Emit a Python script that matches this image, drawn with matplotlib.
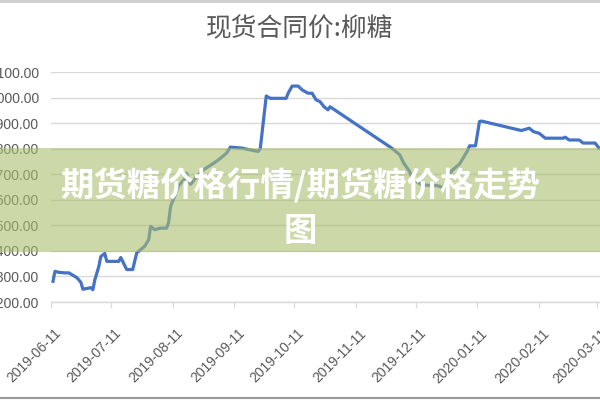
import matplotlib
matplotlib.use("Agg")
import matplotlib.pyplot as plt
import matplotlib.dates as mdates
import matplotlib.transforms as mtransforms
from matplotlib.patches import Rectangle
from matplotlib.lines import Line2D
import pandas as pd

# 현货合同价:柳糖 (读取自图片的近似值)
dates = [
    "2019-06-12", "2019-06-13", "2019-06-15", "2019-06-18", "2019-06-20", "2019-06-24",
    "2019-06-26", "2019-06-27", "2019-07-01", "2019-07-02", "2019-07-03", "2019-07-05",
    "2019-07-06", "2019-07-08", "2019-07-09", "2019-07-15", "2019-07-16", "2019-07-19",
    "2019-07-22", "2019-07-24", "2019-07-28", "2019-07-30", "2019-07-31", "2019-08-02",
    "2019-08-05", "2019-08-08", "2019-08-09", "2019-08-10", "2019-08-12", "2019-08-14",
    "2019-08-17", "2019-08-18", "2019-08-20", "2019-08-23", "2019-08-27", "2019-08-31",
    "2019-09-03", "2019-09-07", "2019-09-09", "2019-09-15", "2019-09-19", "2019-09-23",
    "2019-09-24", "2019-09-27", "2019-09-29", "2019-10-07", "2019-10-08", "2019-10-10",
    "2019-10-13", "2019-10-15", "2019-10-18", "2019-10-20", "2019-10-22", "2019-10-24",
    "2019-10-26", "2019-10-28", "2019-10-29", "2019-11-29", "2019-12-03", "2019-12-05",
    "2019-12-08", "2019-12-09", "2019-12-14", "2019-12-22", "2019-12-25", "2019-12-29",
    "2020-01-02", "2020-01-06", "2020-01-07", "2020-01-10", "2020-01-12", "2020-01-13",
    "2020-02-02", "2020-02-06", "2020-02-08", "2020-02-11", "2020-02-14", "2020-02-23",
    "2020-02-24", "2020-02-26", "2020-03-02", "2020-03-04", "2020-03-10", "2020-03-12",
]
prices = [
    5281, 5320, 5316, 5314, 5314, 5295,
    5277, 5250, 5256, 5248, 5287, 5339,
    5378, 5390, 5359, 5359, 5374, 5327,
    5327, 5392, 5418, 5444, 5496, 5483,
    5489, 5489, 5510, 5574, 5613, 5655,
    5680, 5704, 5660, 5690, 5720, 5740,
    5756, 5782, 5806, 5802, 5795, 5789,
    5800, 6006, 5997, 5997, 6017, 6045,
    6045, 6030, 6017, 6017, 5991, 5984,
    5964, 5952, 5964, 5802, 5776, 5743,
    5710, 5684, 5658, 5655, 5647, 5713,
    5740, 5792, 5811, 5811, 5906, 5908,
    5871, 5880, 5867, 5860, 5841, 5841,
    5845, 5834, 5834, 5822, 5822, 5802,
]
y_ticks = [5200, 5300, 5400, 5500, 5600, 5700, 5800, 5900, 6000, 6100]
x_ticks = ["2019-06-11", "2019-07-11", "2019-08-11", "2019-09-11", "2019-10-11",
           "2019-11-11", "2019-12-11", "2020-01-11", "2020-02-11", "2020-03-11"]

title = "现货合同价:柳糖"
banner_line1 = "期货糖价格行情/期货糖价格走势"
banner_line2 = "图"

gray_text = "#595959"
grid_color = "#d9d9d9"

fig = plt.figure(figsize=(6, 4), dpi=100)
ax = fig.add_axes([0.085, 0.245, 0.940, 0.575])

ax.plot(pd.to_datetime(dates), prices, color="#4472c4", lw=2.3, solid_joinstyle="round")

ax.set_yticks(y_ticks)
ax.set_yticklabels([f"{v:.2f}" for v in y_ticks])
ax.set_ylim(5200, 6100)
ax.set_xticks(pd.to_datetime(x_ticks))
ax.xaxis.set_major_formatter(mdates.DateFormatter("%Y-%m-%d"))
ax.set_xlim(pd.Timestamp("2019-06-11"), pd.Timestamp("2020-03-20"))

ax.grid(axis="y", color=grid_color, lw=1)
ax.set_axisbelow(True)
for s in ["top", "right", "left"]:
    ax.spines[s].set_visible(False)
ax.spines["bottom"].set_color(grid_color)
ax.spines["bottom"].set_linewidth(1)

ax.tick_params(axis="y", length=0, pad=8.6, labelsize=10, labelcolor=gray_text)
ax.tick_params(axis="x", length=4, color=grid_color, pad=17, labelsize=10, labelcolor=gray_text)
for lbl in ax.get_yticklabels():
    lbl.set_fontfamily("Liberation Sans")
offset = mtransforms.ScaledTranslation(8 / 100, 0, fig.dpi_scale_trans)
for lbl in ax.get_xticklabels():
    lbl.set_fontfamily("Liberation Sans")
    lbl.set_rotation(45)
    lbl.set_ha("right")
    lbl.set_va("center")
    lbl.set_rotation_mode("anchor")
    lbl.set_transform(lbl.get_transform() + offset)

fig.text(0.5, 1 - 29 / 400, title, ha="center", va="center", fontsize=18.5,
         color=gray_text, family=["Noto Sans CJK SC", "DejaVu Sans"])

# 테두리 선
fig.add_artist(Line2D([0, 1], [0.997, 0.997], color="#cccccc", lw=2, transform=fig.transFigure))
fig.add_artist(Line2D([0, 1], [0.004, 0.004], color="#999999", lw=1.5, transform=fig.transFigure))

# 반투명 배너
fig.add_artist(Rectangle((0, 1 - 252 / 400), 1, 104 / 400, transform=fig.transFigure,
                         facecolor=(170 / 255, 190 / 255, 110 / 255), alpha=0.6,
                         edgecolor="none", zorder=5))
fig.text(0.5, 1 - 186 / 400, banner_line1, ha="center", va="center", fontsize=24,
         color="white", weight="bold", family=["Noto Sans CJK SC", "DejaVu Sans"], zorder=6)
fig.text(0.5, 1 - 232 / 400, banner_line2, ha="center", va="center", fontsize=24,
         color="white", weight="bold", family=["Noto Sans CJK SC", "DejaVu Sans"], zorder=6)

fig.savefig("out.png", dpi=100)
